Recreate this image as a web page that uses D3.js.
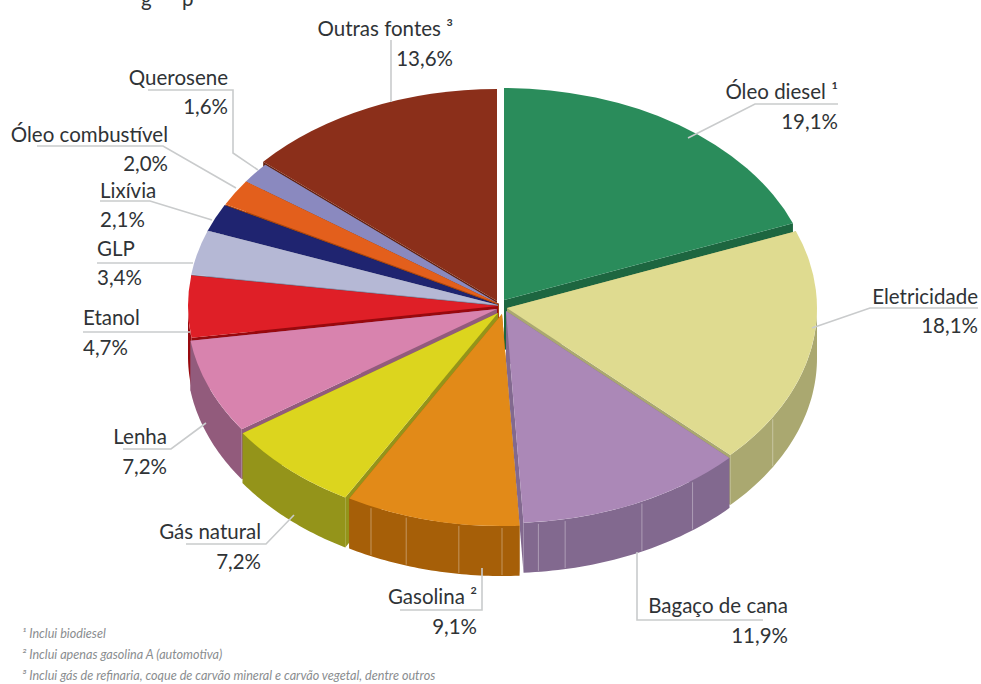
<!DOCTYPE html>
<html lang="pt">
<head>
<meta charset="utf-8">
<script src="https://cdn.jsdelivr.net/npm/d3@7"></script>
<style>
html,body{margin:0;padding:0;background:#fff}
svg{display:block}
text{font-family:Lato,"Open Sans",sans-serif;fill:#2f3336}
</style>
</head>
<body>
<svg id="chart" width="981" height="684"></svg>
<script>
// Energy consumption shares, drawn clockwise from the top of the disc
const categories = ["Óleo diesel ¹","Eletricidade","Bagaço de cana","Gasolina ²","Gás natural","Lenha","Etanol","GLP","Lixívia","Óleo combustível","Querosene","Outras fontes ³"];
const shares = [19.1,18.1,11.9,9.1,7.2,7.2,4.7,3.4,2.1,2.0,1.6,13.6];
const topColors = ["#2a8c5b","#dfdb90","#ab88b7","#e28a18","#dcd51e","#d883ae","#df1f27","#b5b8d5","#1f2470","#e35f1c","#8a89bf","#8b2f1a"];
const wallColors = ["#1d6640","#aaa870","#82698f","#a65f08","#94941a","#925b7c","#98090e","#85889f","#151850","#a8460f","#65648f","#66220f"];
const footnotes = ["¹ Inclui biodiesel","² Inclui apenas gasolina A (automotiva)","³ Inclui gás de refinaria, coque de carvão mineral e carvão vegetal, dentre outros"];

// Disc geometry and the small outward shift of each wedge
const cx = 501, cy = 306, rx = 310, ry = 212, depth = 50;
const shift = [[3,-6],[6,2],[5,5],[1,8],[-3,7],[-4,3],[-3,0],[-3,-1],[-3,-1],[-2,-2],[-2,-2],[-4,-5]];
// Angles (degrees) of the faint seams on the rim
const seams = [[],[121],[143,154,169,174],[180,188,198,205],[],[],[],[],[],[],[],[]];

// Leader lines and label anchors
const leaders = [
  [[688,138],[755,104],[838,104]],
  [[812,328],[870,308],[978,308]],
  [[637,552],[637,620],[763,620]],
  [[482,568],[482,610],[400,610]],
  [[294,515],[266,544],[186,544]],
  [[206,423],[171,449],[123,449]],
  [[83,332],[190,332]],
  [[97,263],[193,263]],
  [[100,201],[150,201],[212,220]],
  [[37,146],[163,146],[236,188]],
  [[148,90],[233,90],[233,153],[258,170]],
  [[391,40],[391,102]]
];
const anchors = [
  [838,99,129,"end"],[978,304,333,"end"],[788,613,643,"end"],[477,604,634,"end"],
  [261,539,569,"end"],[167,444,474,"end"],[83,325,355,"start"],[97,256,285,"start"],
  [100,198,227,"start"],[168,142,171,"end"],[228,85,114,"end"],[453,36,66,"end"]
];

const svg = d3.select("#chart");
const pie = d3.pie().sort(null).value(d => d)(shares);
const arc = d3.arc().innerRadius(0).outerRadius(rx);
const line = d3.line();
const fmt = v => v.toFixed(1).replace(".", ",") + "%";

const toDeg = a => a * 180 / Math.PI;
// Project an angle on the disc rim to flat coordinates
const rim = (a, s, drop = 0) => [cx + s[0] + rx * Math.sin(a), cy + s[1] - ry * Math.cos(a) + drop];

const order = pie.map((d, i) => ({...d, i}))
  .sort((p, q) => Math.abs(toDeg((q.startAngle + q.endAngle) / 2) - 180) - Math.abs(toDeg((p.startAngle + p.endAngle) / 2) - 180));

const discs = svg.append("g");
order.forEach(d => {
  const s = shift[d.i], g = discs.append("g");
  const apex = [cx + s[0], cy + s[1]];
  // Cut faces along both radii
  [d.startAngle, d.endAngle].forEach(a => {
    const r = rim(a, s), b = rim(a, s, depth);
    g.append("path").attr("d", line([apex, r, b, [apex[0], apex[1] + depth]]) + "Z").attr("fill", wallColors[d.i]);
  });
  // Outer rim, only where it faces the viewer
  const a0 = Math.max(d.startAngle, Math.PI / 2), a1 = Math.min(d.endAngle, 3 * Math.PI / 2);
  if (a1 > a0) {
    const ts = d3.range(0, 41).map(k => a0 + (a1 - a0) * k / 40);
    const pts = ts.map(a => rim(a, s)).concat(ts.slice().reverse().map(a => rim(a, s, depth)));
    g.append("path").attr("d", line(pts) + "Z").attr("fill", wallColors[d.i]);
    seams[d.i].forEach(deg => {
      const a = deg * Math.PI / 180;
      g.append("path").attr("d", line([rim(a, s, 2), rim(a, s, depth - 1)]))
        .attr("stroke", "#fff").attr("stroke-opacity", 0.35).attr("fill", "none");
    });
  }
  // Top face: a flat d3 arc squashed into an ellipse
  g.append("path")
    .attr("transform", `translate(${apex[0]},${apex[1]}) scale(1,${ry / rx})`)
    .attr("d", arc(d))
    .attr("fill", topColors[d.i]);
});

svg.append("g").selectAll("path").data(leaders).join("path")
  .attr("d", d => line(d)).attr("fill", "none").attr("stroke", "#c9cbcc").attr("stroke-width", 1.6);

const labels = svg.append("g").attr("font-size", 20.5);
categories.forEach((c, i) => {
  const [x, y1, y2, ta] = anchors[i];
  labels.append("text").attr("x", x).attr("y", y1).attr("text-anchor", ta).text(c);
  labels.append("text").attr("x", x).attr("y", y2).attr("text-anchor", ta).text(fmt(shares[i]));
});

// Footnotes under the chart
svg.append("g").selectAll("text").data(footnotes).join("text")
  .attr("x", 22).attr("y", (d, i) => 638 + i * 21)
  .attr("font-size", 12.6).attr("font-style", "italic").style("fill", "#8a8d8f").text(d => d);

// Descenders of the heading running off the top edge
svg.append("g").attr("font-size", 20.5).selectAll("text").data(["g","p"]).join("text")
  .attr("x", (d, i) => i ? 182 : 141).attr("y", 6).text(d => d);
</script>
</body>
</html>
